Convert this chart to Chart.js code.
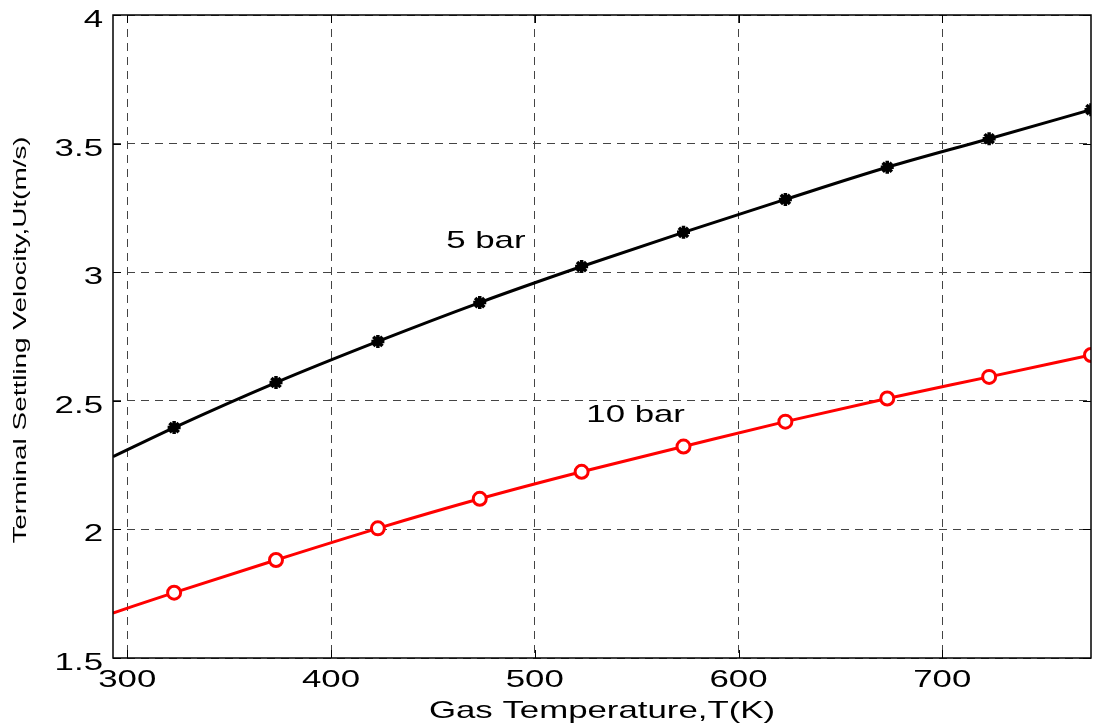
<!DOCTYPE html>
<html>
<head>
<meta charset="utf-8">
<script src="https://cdn.jsdelivr.net/npm/chart.js@4/dist/chart.umd.min.js"></script>
<style>
  html, body { margin: 0; padding: 0; background: #fff; }
  #wrap { width: 1093px; height: 727px; }
</style>
</head>
<body>
<div id="wrap"><canvas id="chart" width="1093" height="727"></canvas></div>
<script>
// gas temperature (K); first entry is only the start of the line, no marker
const temps = [293, 323, 373, 423, 473, 523, 573, 623, 673, 723, 773];
const vel5bar = [2.283, 2.396, 2.571, 2.731, 2.882, 3.022, 3.155, 3.283, 3.408, 3.519, 3.632];
const vel10bar = [1.675, 1.754, 1.881, 2.004, 2.119, 2.224, 2.322, 2.419, 2.509, 2.593, 2.678];

const xTicks = [300, 400, 500, 600, 700];
const yTicks = [1.5, 2, 2.5, 3, 3.5, 4];

const seriesLabels = ['5 bar', '10 bar'];
const labelX = [476, 549.5];
const labelY = [3.131, 2.454];

const FONT = '"Liberation Sans", Arial, sans-serif';

function wideText(ctx, text, x, y, sx, align) {
    ctx.save();
    ctx.translate(x, y);
    ctx.scale(sx, 1);
    ctx.textAlign = align;
    ctx.textBaseline = 'alphabetic';
    ctx.fillText(text, 0, 0);
    ctx.restore();
}

const frameAndText = {
    id: 'frameAndText',
    afterDraw(chart) {
        const ctx = chart.ctx;
        const area = chart.chartArea;
        const xs = chart.scales.x;
        const ys = chart.scales.y;

        // inward tick marks
        ctx.save();
        ctx.strokeStyle = '#000';
        ctx.lineWidth = 1;
        ctx.beginPath();
        xTicks.forEach(v => {
            const px = Math.round(xs.getPixelForValue(v)) + 0.5;
            ctx.moveTo(px, area.bottom); ctx.lineTo(px, area.bottom - 8);
            ctx.moveTo(px, area.top); ctx.lineTo(px, area.top + 8);
        });
        yTicks.forEach(v => {
            const py = Math.round(ys.getPixelForValue(v)) + 0.5;
            ctx.moveTo(area.left, py); ctx.lineTo(area.left + 8, py);
            ctx.moveTo(area.right, py); ctx.lineTo(area.right - 8, py);
        });
        ctx.stroke();

        // box
        ctx.lineWidth = 1.5;
        ctx.strokeRect(area.left, area.top, area.right - area.left, area.bottom - area.top);
        ctx.restore();

        ctx.save();
        ctx.fillStyle = '#000';
        ctx.font = '24px ' + FONT;
        xTicks.forEach(v => {
            wideText(ctx, String(v), xs.getPixelForValue(v), area.bottom + 29, 1.45, 'center');
        });
        yTicks.forEach(v => {
            wideText(ctx, String(v), 103, ys.getPixelForValue(v) + 12, 1.45, 'right');
        });
        wideText(ctx, 'Gas Temperature,T(K)', (area.left + area.right) / 2, 718, 1.45, 'center');

        seriesLabels.forEach((t, i) => {
            wideText(ctx, t, xs.getPixelForValue(labelX[i]), ys.getPixelForValue(labelY[i]) + 9, 1.45, 'center');
        });

        // y title, rotated
        ctx.font = '18px ' + FONT;
        ctx.translate(26, 340);
        ctx.rotate(-Math.PI / 2);
        ctx.scale(1.55, 1);
        ctx.textAlign = 'center';
        ctx.fillText('Terminal Settling Velocity,Ut(m/s)', 0, 0);
        ctx.restore();
    }
};

const markerRadius = temps.map((t, i) => i === 0 ? 0 : 6.5);

new Chart(document.getElementById('chart').getContext('2d'), {
    type: 'line',
    data: {
        datasets: [{
            label: seriesLabels[0],
            data: temps.map((t, i) => ({ x: t, y: vel5bar[i] })),
            borderColor: '#000',
            borderWidth: 3,
            pointStyle: 'star',
            pointRadius: markerRadius,
            pointBorderColor: '#000',
            pointBorderWidth: 3.5,
            cubicInterpolationMode: 'monotone',
            fill: false
        }, {
            label: seriesLabels[1],
            data: temps.map((t, i) => ({ x: t, y: vel10bar[i] })),
            borderColor: '#ff0000',
            borderWidth: 3,
            pointStyle: 'circle',
            pointRadius: markerRadius,
            pointBorderColor: '#ff0000',
            pointBackgroundColor: '#fff',
            pointBorderWidth: 3,
            cubicInterpolationMode: 'monotone',
            fill: false
        }]
    },
    options: {
        responsive: false,
        animation: false,
        events: [],
        layout: { autoPadding: false, padding: { left: 113, top: 15, right: 2, bottom: 69 } },
        plugins: {
            legend: { display: false },
            tooltip: { enabled: false }
        },
        scales: {
            x: {
                type: 'linear',
                min: 293,
                max: 773,
                afterBuildTicks: scale => { scale.ticks = xTicks.map(v => ({ value: v })); },
                afterFit: scale => { scale.height = 0; },
                ticks: { display: false },
                grid: { color: '#444', lineWidth: 1, drawTicks: false },
                border: { display: false, dash: [8, 6] }
            },
            y: {
                type: 'linear',
                min: 1.5,
                max: 4,
                afterBuildTicks: scale => { scale.ticks = yTicks.map(v => ({ value: v })); },
                afterFit: scale => { scale.width = 0; },
                ticks: { display: false },
                grid: { color: '#444', lineWidth: 1, drawTicks: false },
                border: { display: false, dash: [8, 6] }
            }
        }
    },
    plugins: [frameAndText]
});
</script>
</body>
</html>
